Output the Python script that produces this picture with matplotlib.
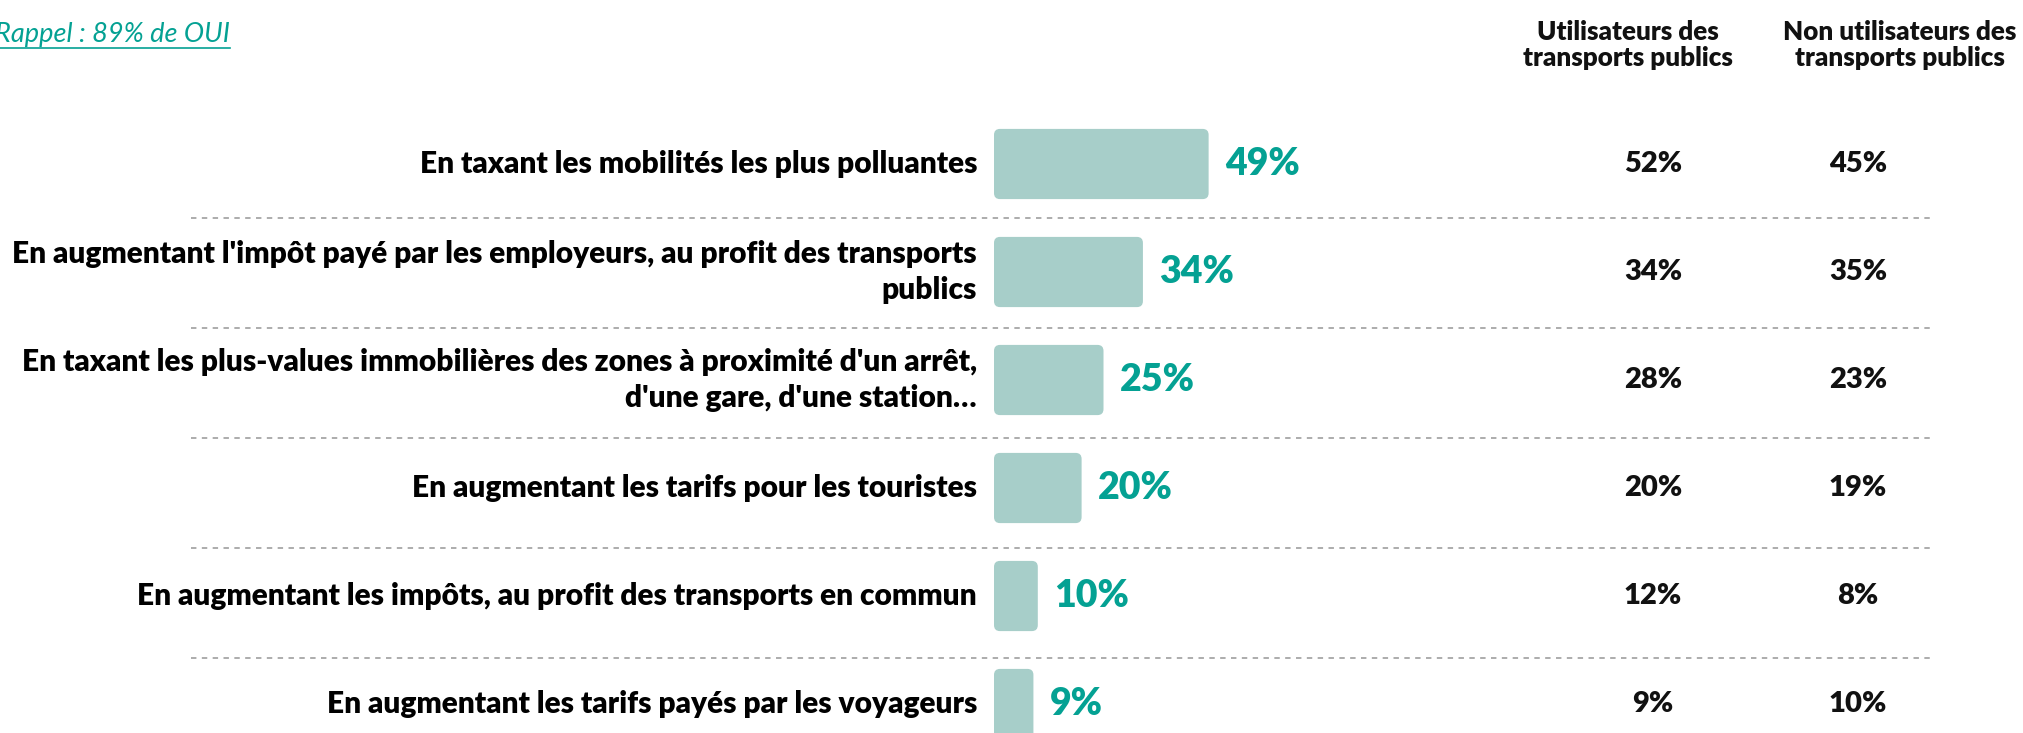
import matplotlib
matplotlib.use("Agg")
import matplotlib.pyplot as plt
from matplotlib.patches import FancyBboxPatch
from matplotlib.lines import Line2D
import matplotlib.transforms as mtransforms

plt.rcParams['font.family'] = ['Lato', 'DejaVu Sans']

# Données
labels = [
    "En taxant les mobilités les plus polluantes",
    "En augmentant l'impôt payé par les employeurs, au profit des transports\npublics",
    "En taxant les plus-values immobilières des zones à proximité d'un arrêt,\nd'une gare, d'une station…",
    "En augmentant les tarifs pour les touristes",
    "En augmentant les impôts, au profit des transports en commun",
    "En augmentant les tarifs payés par les voyageurs",
]
total = [49, 34, 25, 20, 10, 9]
utilisateurs = [52, 34, 28, 20, 12, 9]
non_utilisateurs = [45, 35, 23, 19, 8, 10]
entetes = ["Utilisateurs des\ntransports publics", "Non utilisateurs des\ntransports publics"]
rappel = "Rappel : 89% de OUI"

BAR = "#A7CEC9"
TEAL = "#04A193"
GRIS = "#A6A6A6"
POIDS = 'heavy'

W, H = 2023, 733
fig = plt.figure(figsize=(W / 100, H / 100), dpi=100)
ax = fig.add_axes([0, 0, 1, 1])
ax.axis('off')

# échelle : 1 % = 4.38 px, lignes espacées de 108 px
px_pct = 4.38
x0 = 994
pas = 108
y0 = 164
ax.set_xlim(-x0 / px_pct, (W - x0) / px_pct)
ax.set_ylim((H - y0) / pas, -y0 / pas)

ypos = list(range(len(labels)))
bars = ax.barh(ypos, total, height=0.65, color=BAR)

# barres aux coins arrondis
r = 6
for b in bars:
    b.set_visible(False)
    p = FancyBboxPatch((b.get_x(), b.get_y()), b.get_width(), b.get_height(),
                       boxstyle=f"round,pad=0,rounding_size={r / px_pct}",
                       mutation_aspect=px_pct / pas,
                       facecolor=BAR, edgecolor='none')
    ax.add_patch(p)

for y, lab, v in zip(ypos, labels, total):
    ax.text(-17 / px_pct, y, lab, ha='right', va='center', fontsize=21.5,
            fontweight=POIDS, color='black', linespacing=1.35)
    ax.annotate(f"{v}%", (v, y), xytext=(12, 0), textcoords='offset points',
                ha='left', va='center', fontsize=27, fontweight=POIDS, color=TEAL)

# colonnes de droite
trans = mtransforms.blended_transform_factory(fig.transFigure, ax.transData)
for y, a, b in zip(ypos, utilisateurs, non_utilisateurs):
    ax.text(1653 / W, y, f"{a}%", transform=trans, ha='center', va='center',
            fontsize=21, fontweight=POIDS, color='#111111')
    ax.text(1858 / W, y, f"{b}%", transform=trans, ha='center', va='center',
            fontsize=21, fontweight=POIDS, color='#111111')

fig.text(1628 / W, 1 - 45 / H, entetes[0], ha='center', va='center',
         fontsize=18.7, fontweight=POIDS, color='#111111', linespacing=1.15)
fig.text(1900 / W, 1 - 45 / H, entetes[1], ha='center', va='center',
         fontsize=18.7, fontweight=POIDS, color='#111111', linespacing=1.15)

# séparateurs pointillés
for k in range(len(labels) - 1):
    ysep = 0.5 + k * 110 / pas
    ax.plot([191 / W, 1930 / W], [ysep, ysep], transform=trans, color=GRIS,
            lw=1.3, linestyle=(0, (3, 3)))

# rappel souligné
t = fig.text(230 / W, 1 - 42 / H, rappel, ha='right', va='baseline',
             fontsize=19.5, style='italic', color=TEAL)
fig.canvas.draw()
bb = t.get_window_extent()
yl = H - 48
fig.add_artist(Line2D([bb.x0 / W, bb.x1 / W], [yl / H, yl / H],
                      transform=fig.transFigure, color=TEAL, lw=1.2))

fig.savefig("out.png", dpi=100)
